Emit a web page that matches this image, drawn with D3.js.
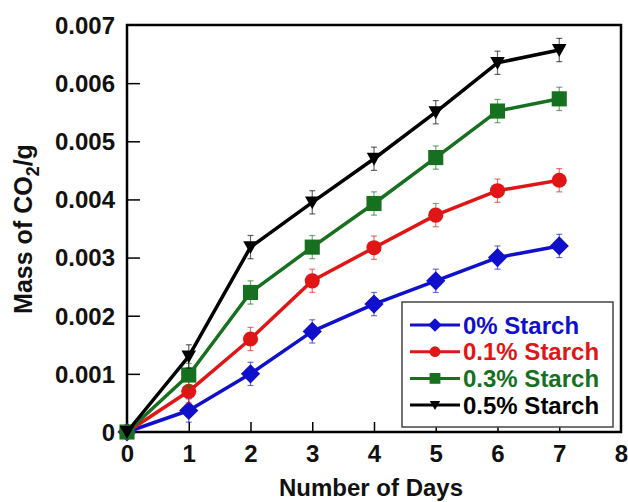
<!DOCTYPE html>
<html>
<head>
<meta charset="utf-8">
<script src="https://cdn.jsdelivr.net/npm/d3@7"></script>
<style>
  body { margin: 0; background: #fff; }
  svg { font-family: "Liberation Sans", Arial, sans-serif; font-weight: bold; }
</style>
</head>
<body>
<script>
// data
const days = [0, 1, 2, 3, 4, 5, 6, 7];
const seriesNames = ['0% Starch', '0.1% Starch', '0.3% Starch', '0.5% Starch'];
const seriesColors = ['#1010cc', '#e01515', '#17701f', '#000000'];
const starch0 = [0, 0.00037, 0.00100, 0.00173, 0.00220, 0.00260, 0.00300, 0.00320];
const starch01 = [0, 0.00070, 0.00160, 0.00260, 0.00317, 0.00373, 0.00415, 0.00433];
const starch03 = [0, 0.00098, 0.00240, 0.00318, 0.00393, 0.00472, 0.00552, 0.00573];
const starch05 = [0, 0.00130, 0.00318, 0.00395, 0.00470, 0.00550, 0.00635, 0.00657];
const errBars = [0, 0.0002, 0.0002, 0.0002, 0.0002, 0.0002, 0.0002, 0.0002];
const xTicks = [0, 1, 2, 3, 4, 5, 6, 7, 8];
const yTicks = [0, 0.001, 0.002, 0.003, 0.004, 0.005, 0.006, 0.007];

const width = 628, height = 502;
const margin = {left: 127, right: 7, top: 25, bottom: 70};

const svg = d3.select('body').append('svg')
    .attr('width', width)
    .attr('height', height);

const x = d3.scaleLinear().domain([0, 8]).range([margin.left, width - margin.right]);
const y = d3.scaleLinear().domain([0, 0.007]).range([height - margin.bottom, margin.top]);

// axes: ticks point inward
const xAxis = svg.append('g')
    .attr('transform', `translate(0,${y(0)})`)
    .call(d3.axisBottom(x).tickValues(xTicks).tickSize(-10).tickPadding(13).tickFormat(d3.format('d')));
xAxis.select('.domain').remove();
xAxis.selectAll('line').attr('stroke-width', 1.5);
xAxis.selectAll('text').attr('font-size', 24).attr('fill', '#111');
xAxis.selectAll('.tick').filter(d => d === 0 || d === 8).select('line').remove();

const yAxis = svg.append('g')
    .attr('transform', `translate(${x(0)},0)`)
    .call(d3.axisLeft(y).tickValues(yTicks).tickSize(-13).tickPadding(12)
        .tickFormat(d => d === 0 ? '0' : d3.format('.3f')(d)));
yAxis.select('.domain').remove();
yAxis.selectAll('line').attr('stroke-width', 1.5);
yAxis.selectAll('text').attr('font-size', 24).attr('fill', '#111').attr('dy', '0.35em');
yAxis.selectAll('.tick').filter(d => d === 0 || d === 0.007).select('line').remove();

// frame
svg.append('rect')
    .attr('x', x(0)).attr('y', y(0.007))
    .attr('width', x(8) - x(0)).attr('height', y(0) - y(0.007))
    .attr('fill', 'none').attr('stroke', '#000').attr('stroke-width', 2.5);

// axis titles
svg.append('text')
    .attr('x', 371).attr('y', 496)
    .attr('text-anchor', 'middle').attr('font-size', 24).attr('fill', '#111')
    .text('Number of Days');

const yTitle = svg.append('text')
    .attr('transform', `translate(32,229) rotate(-90)`)
    .attr('text-anchor', 'middle').attr('font-size', 25).attr('fill', '#111');
yTitle.append('tspan').text('Mass of CO');
yTitle.append('tspan').attr('font-size', 18).attr('dy', 7).text('2');
yTitle.append('tspan').attr('dy', -7).text('/g');

const allSeries = [starch0, starch01, starch03, starch05].map((vals, i) => ({
    name: seriesNames[i], color: seriesColors[i], idx: i,
    points: days.map((d, j) => ({day: d, value: vals[j], err: errBars[j]}))
}));

function marker(sel, idx, s) {
    if (idx === 0) sel.append('path').attr('d', d3.symbol(d3.symbolDiamond2, s * s * 1.2)());
    else if (idx === 1) sel.append('circle').attr('r', s * 0.54);
    else if (idx === 2) sel.append('rect').attr('x', -s * 0.54).attr('y', -s * 0.54).attr('width', s * 1.08).attr('height', s * 1.08);
    else sel.append('path').attr('d', `M${-s * 0.52},${-s * 0.42}L${s * 0.52},${-s * 0.42}L0,${s * 0.5}Z`);
}

const line = d3.line().x(d => x(d.day)).y(d => y(d.value));

allSeries.forEach(s => {
    const g = svg.append('g');
    // error bars
    const eb = g.selectAll('.eb').data(s.points.filter(p => p.err > 0)).enter().append('g')
        .attr('stroke', s.color).attr('stroke-opacity', 0.6).attr('stroke-width', 1.2);
    eb.append('line').attr('x1', d => x(d.day)).attr('x2', d => x(d.day))
        .attr('y1', d => y(d.value + d.err)).attr('y2', d => y(d.value - d.err));
    eb.append('line').attr('x1', d => x(d.day) - 3).attr('x2', d => x(d.day) + 3)
        .attr('y1', d => y(d.value + d.err)).attr('y2', d => y(d.value + d.err));
    eb.append('line').attr('x1', d => x(d.day) - 3).attr('x2', d => x(d.day) + 3)
        .attr('y1', d => y(d.value - d.err)).attr('y2', d => y(d.value - d.err));

    g.append('path').datum(s.points)
        .attr('d', line).attr('fill', 'none')
        .attr('stroke', s.color).attr('stroke-width', 3.5).attr('stroke-linejoin', 'round');

    g.selectAll('.pt').data(s.points).enter().append('g')
        .attr('transform', d => `translate(${x(d.day)},${y(d.value)})`)
        .attr('fill', s.color)
        .each(function() { marker(d3.select(this), s.idx, 14); });
});

// legend
const legend = svg.append('g');
legend.append('rect')
    .attr('x', 402).attr('y', 302).attr('width', 211).attr('height', 125)
    .attr('fill', '#fff').attr('stroke', '#444').attr('stroke-width', 1.5);
allSeries.forEach((s, i) => {
    const ly = 325 + i * 26.7;
    legend.append('line').attr('x1', 410).attr('x2', 460).attr('y1', ly).attr('y2', ly)
        .attr('stroke', s.color).attr('stroke-width', 3);
    legend.append('g').attr('transform', `translate(435,${ly})`).attr('fill', s.color)
        .each(function() { marker(d3.select(this), s.idx, 10); });
    legend.append('text').attr('x', 463).attr('y', ly).attr('dy', '0.36em')
        .attr('font-size', 24).attr('fill', s.color).text(s.name);
});
</script>
</body>
</html>
